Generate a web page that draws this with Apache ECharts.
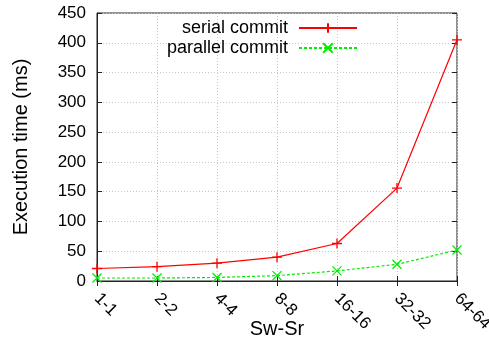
<!DOCTYPE html>
<html><head><meta charset="utf-8">
<script src="https://cdn.jsdelivr.net/npm/echarts@6/dist/echarts.min.js"></script>
<style>html,body{margin:0;padding:0;background:#fff}#c{width:489px;height:341px}</style>
</head><body><div id="c"></div>
<script>
const categories = ['1-1','2-2','4-4','8-8','16-16','32-32','64-64'];
const serialCommit = [21, 24, 30, 40, 63, 156, 405];
const parallelCommit = [5, 5, 6, 9, 17, 28, 52];
const yTicks = [0,50,100,150,200,250,300,350,400,450];

const FONT = 'Liberation Sans, Arial, sans-serif';
const plusSym = 'path://M0,5L10,5M5,0L5,10';
const crossSym = 'path://M0,0L10,10M10,0L0,10';

const chart = echarts.init(document.getElementById('c'), null, {renderer:'canvas'});
chart.setOption({
  animation:false,
  backgroundColor:'#fff',
  grid:{left:97,right:32,top:13,bottom:60,show:true,borderColor:'#222',borderWidth:1,
        containLabel:false, outerBoundsMode:'none'},
  legend:{
    orient:'vertical', right:126, top:14, align:'right',
    itemWidth:58, itemHeight:12, itemGap:2,
    textStyle:{fontFamily:FONT,fontSize:18,lineHeight:18,color:'#000',padding:[0,6,0,0]},
    data:['serial commit','parallel commit']
  },
  xAxis:[{
    type:'category', data:categories, boundaryGap:false,
    name:'Sw-Sr', nameLocation:'middle', nameGap:38, nameMoveOverlap:false,
    nameTextStyle:{fontFamily:FONT,fontSize:20,color:'#000'},
    axisLine:{show:true,lineStyle:{color:'#222'}},
    axisTick:{show:true,inside:true,length:5,lineStyle:{color:'#222'},alignWithLabel:true},
    axisLabel:{rotate:-45,fontFamily:FONT,fontSize:17,color:'#000',margin:15},
    splitLine:{show:true,lineStyle:{color:'#c8c8c8',type:[1,2],width:1}}
  },{
    type:'category', data:categories, boundaryGap:false, position:'top',
    axisLine:{show:false},
    axisTick:{show:true,inside:true,length:5,lineStyle:{color:'#222'}},
    axisLabel:{show:false}, splitLine:{show:false}
  }],
  yAxis:[{
    type:'value', min:yTicks[0], max:yTicks[yTicks.length-1], interval:50,
    name:'Execution time (ms)', nameLocation:'middle', nameGap:66, nameRotate:90, nameMoveOverlap:false,
    nameTextStyle:{fontFamily:FONT,fontSize:20,color:'#000'},
    axisLine:{show:true,lineStyle:{color:'#222'}},
    axisTick:{show:true,inside:true,length:5,lineStyle:{color:'#222'}},
    axisLabel:{fontFamily:FONT,fontSize:17,color:'#000',margin:11},
    splitLine:{show:true,lineStyle:{color:'#c8c8c8',type:[1,2],width:1}}
  },{
    type:'value', min:yTicks[0], max:yTicks[yTicks.length-1], interval:50, position:'right',
    axisLine:{show:false},
    axisTick:{show:true,inside:true,length:5,lineStyle:{color:'#222'}},
    axisLabel:{show:false}, splitLine:{show:false}
  }],
  series:[{
    name:'serial commit', type:'line', data:serialCommit,
    symbol:plusSym, symbolSize:10, showAllSymbol:true,
    lineStyle:{color:'#ff0000',width:1.2},
    itemStyle:{color:'#ff0000',borderColor:'#ff0000',borderWidth:1.3},
    z:3
  },{
    name:'parallel commit', type:'line', data:parallelCommit,
    symbol:crossSym, symbolSize:9, showAllSymbol:true,
    lineStyle:{color:'#00ee00',width:1.2,type:[3,2]},
    itemStyle:{color:'#00ee00',borderColor:'#00ee00',borderWidth:1.3},
    z:2
  }]
});
</script></body></html>
